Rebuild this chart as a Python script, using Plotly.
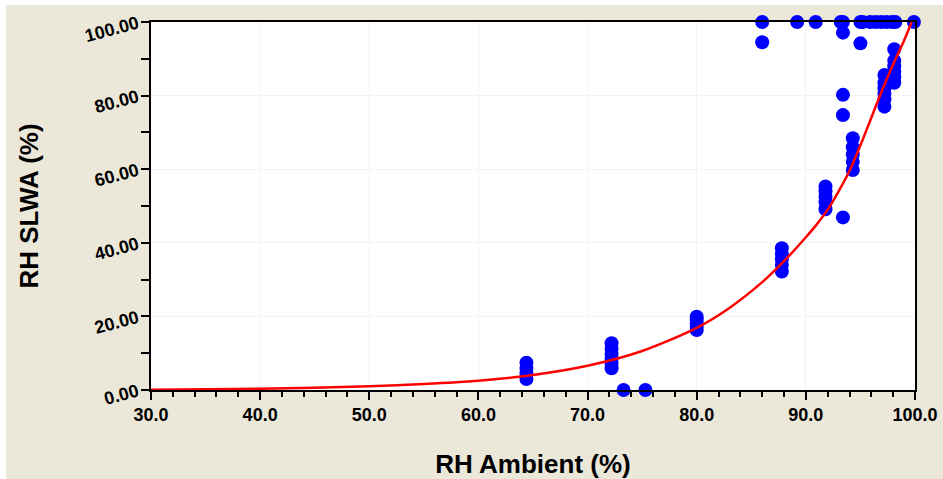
import plotly.graph_objects as go

# Observed points (RH Ambient %, RH SLWA %)
obs_x = [64.4, 64.4, 64.4, 64.4,
         72.2, 72.2, 72.2, 72.2, 72.2, 72.2,
         73.3, 75.3,
         80.0, 80.0, 80.0, 80.0, 80.0,
         87.8, 87.8, 87.8, 87.8, 87.8,
         91.8, 91.8, 91.8, 91.8, 91.8,
         93.4, 93.4, 93.4, 93.4, 93.4, 93.2,
         94.3, 94.3, 94.3, 94.3, 94.3,
         86.0, 86.0, 89.2, 90.9,
         95.0, 95.0, 95.2,
         95.9, 96.4, 96.9, 97.4, 97.9, 98.2,
         97.2, 97.2, 97.2, 97.2, 97.2, 97.2,
         98.1, 98.1, 98.1, 98.1, 98.1, 98.1,
         99.9]
obs_y = [7.4, 6.0, 4.5, 3.0,
         12.7, 11.2, 9.8, 8.5, 7.2, 5.9,
         0.0, 0.0,
         19.9, 19.0, 18.0, 17.2, 16.3,
         38.5, 37.0, 35.5, 34.0, 32.2,
         55.3, 54.0, 52.5, 51.0, 49.1,
         46.9, 74.7, 80.2, 97.1, 100.0, 100.0,
         68.4, 66.0, 64.0, 62.0, 59.8,
         100.0, 94.5, 100.0, 100.0,
         100.0, 94.2, 100.0,
         100.0, 100.0, 100.0, 100.0, 100.0, 100.0,
         85.6, 83.5, 82.0, 80.5, 79.0, 77.0,
         92.6, 89.5, 88.0, 86.5, 85.0, 83.5,
         100.0]

# Fitted curve
fit_x = [30, 35, 40, 45, 50, 55, 60, 65, 70, 75, 80, 83, 86, 88, 90, 91, 92, 93, 94, 95, 96, 97, 98, 99, 99.7]
fit_y = [0.1, 0.2, 0.35, 0.6, 1.0, 1.6, 2.5, 4.1, 6.6, 10.6, 16.9, 22.3, 29.3, 35.0, 41.5, 45.0, 49.0, 54.0, 59.5, 66.5, 74.0, 81.5, 88.5, 95.0, 100.0]

x_ticks = [30, 40, 50, 60, 70, 80, 90, 100]
y_ticks = [0, 20, 40, 60, 80, 100]

BEIGE = "#EBE7D9"
FONT = "Liberation Sans, Arial, sans-serif"

W, H = 943, 479
ML, MR, MT, MB = 151, 28, 22, 89
PW, PH = W - ML - MR, H - MT - MB

fig = go.Figure()
fig.add_trace(go.Scatter(x=obs_x, y=obs_y, mode="markers",
                         marker=dict(color="#0000FF", size=14, line=dict(width=0)),
                         cliponaxis=False, showlegend=False))
fig.add_trace(go.Scatter(x=fit_x, y=fit_y, mode="lines",
                         line=dict(color="#FF0000", width=2.5, shape="spline", smoothing=0.8),
                         cliponaxis=False, showlegend=False))

fig.update_layout(
    width=W, height=H,
    margin=dict(l=ML, r=MR, t=MT, b=MB, autoexpand=False),
    paper_bgcolor=BEIGE, plot_bgcolor="white",
    font=dict(family=FONT, color="black"),
    xaxis=dict(range=[30, 100], tickvals=x_ticks,
               ticktext=[f"{v:.1f}" for v in x_ticks],
               tickfont=dict(size=18, weight="bold"),
               ticklabeloverflow="allow", automargin=False,
               ticks="outside", ticklen=8, tickwidth=1.5, tickcolor="black",
               minor=dict(dtick=2, ticks="outside", ticklen=5, tickwidth=1.5, tickcolor="black", showgrid=False),
               showline=True, linecolor="black", linewidth=1.5, mirror=True,
               showgrid=True, gridcolor="#F3F3F3", zeroline=False,
               title=dict(text="RH Ambient (%)", font=dict(size=26, weight="bold"), standoff=30)),
    yaxis=dict(range=[0, 100], tickvals=y_ticks,
               ticktext=[f"{v:.2f}" for v in y_ticks],
               tickangle=-15,
               tickfont=dict(size=18, weight="bold"),
               ticklabeloverflow="allow", automargin=False,
               ticks="outside", ticklen=8, tickwidth=1.5, tickcolor="black",
               minor=dict(dtick=10, ticks="outside", ticklen=8, tickwidth=1.5, tickcolor="black", showgrid=False),
               showline=True, linecolor="black", linewidth=1.5, mirror=True,
               showgrid=True, gridcolor="#F3F3F3", zeroline=False,
               title=dict(text="RH SLWA (%)", font=dict(size=26, weight="bold"), standoff=37)),
    shapes=[
        dict(type="rect", xref="paper", yref="paper",
             x0=-ML / PW, x1=(W - ML) / PW, y0=1 + (MT - 5) / PH, y1=1 + MT / PH,
             fillcolor="white", line=dict(width=0), layer="above"),
        dict(type="rect", xref="paper", yref="paper",
             x0=-ML / PW, x1=-(ML - 6) / PW, y0=-MB / PH, y1=1 + MT / PH,
             fillcolor="white", line=dict(width=0), layer="above"),
    ],
)

fig.write_html("out.html", config={"displayModeBar": False},
               post_script="document.body.style.margin='0px';")
